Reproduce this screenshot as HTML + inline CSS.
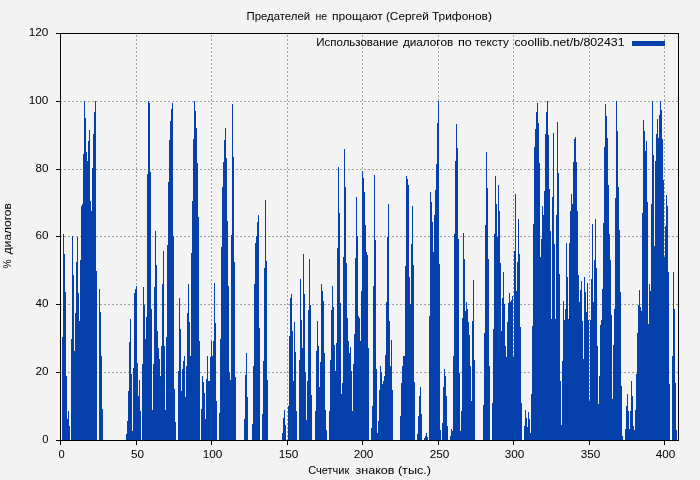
<!DOCTYPE html>
<html><head><meta charset="utf-8"><title>chart</title>
<style>
html,body{margin:0;padding:0;background:#f3f3f3;}
body{width:700px;height:480px;overflow:hidden;}
svg{display:block;will-change:transform;}
text{font-family:"Liberation Sans",sans-serif;font-size:10.6px;fill:#000;stroke:none;}
</style></head><body>
<svg width="700" height="480" viewBox="0 0 700 480">
<rect x="0" y="0" width="700" height="480" fill="#f3f3f3"/>
<g stroke="#a0a0a0" stroke-width="1" stroke-dasharray="2,2" shape-rendering="crispEdges" fill="none">
<line x1="136.5" y1="441" x2="136.5" y2="34"/><line x1="211.5" y1="441" x2="211.5" y2="34"/><line x1="287.5" y1="441" x2="287.5" y2="34"/><line x1="362.5" y1="441" x2="362.5" y2="34"/><line x1="438.5" y1="441" x2="438.5" y2="34"/><line x1="513.5" y1="441" x2="513.5" y2="34"/><line x1="589.5" y1="441" x2="589.5" y2="34"/><line x1="664.5" y1="441" x2="664.5" y2="34"/><line x1="60" y1="372.5" x2="678" y2="372.5"/><line x1="60" y1="304.5" x2="678" y2="304.5"/><line x1="60" y1="236.5" x2="678" y2="236.5"/><line x1="60" y1="169.5" x2="678" y2="169.5"/><line x1="60" y1="101.5" x2="678" y2="101.5"/>
</g>
<path d="M62 440V337h1V440zM63 440V234h1V440zM64 440V254h1V440zM65 440V292h1V440zM66 440V376h1V440zM67 440V419h1V440zM68 440V411h1V440zM69 440V426h1V440zM71 440V339h1V440zM72 440V236h1V440zM73 440V275h1V440zM74 440V351h1V440zM75 440V313h1V440zM76 440V262h1V440zM77 440V237h1V440zM78 440V293h1V440zM79 440V321h1V440zM80 440V260h1V440zM81 440V206h1V440zM82 440V204h1V440zM83 440V154h1V440zM84 440V101h1V440zM85 440V118h1V440zM86 440V152h1V440zM87 440V161h1V440zM88 440V141h1V440zM89 440V130h1V440zM90 440V201h1V440zM91 440V211h1V440zM92 440V168h1V440zM93 440V134h1V440zM94 440V112h1V440zM95 440V101h1V440zM96 440V271h1V440zM99 440V289h1V440zM100 440V312h1V440zM101 440V356h1V440zM102 440V409h1V440zM126 440V434h1V440zM127 440V421h1V440zM128 440V391h1V440zM129 440V342h1V440zM130 440V319h1V440zM131 440V374h1V440zM132 440V431h1V440zM133 440V368h1V440zM134 440V293h1V440zM135 440V289h1V440zM136 440V286h1V440zM137 440V363h1V440zM138 440V396h1V440zM139 440V380h1V440zM140 440V411h1V440zM142 440V364h1V440zM143 440V287h1V440zM144 440V305h1V440zM145 440V339h1V440zM146 440V317h1V440zM147 440V174h1V440zM148 440V101h1V440zM149 440V103h1V440zM150 440V172h1V440zM151 440V309h1V440zM152 440V410h1V440zM153 440V364h1V440zM154 440V287h1V440zM155 440V231h1V440zM156 440V265h1V440zM157 440V331h1V440zM158 440V348h1V440zM159 440V359h1V440zM160 440V376h1V440zM161 440V346h1V440zM162 440V284h1V440zM163 440V251h1V440zM164 440V346h1V440zM165 440V410h1V440zM166 440V337h1V440zM167 440V245h1V440zM168 440V182h1V440zM169 440V140h1V440zM170 440V121h1V440zM171 440V109h1V440zM172 440V103h1V440zM173 440V236h1V440zM174 440V389h1V440zM175 440V422h1V440zM178 440V371h1V440zM179 440V298h1V440zM180 440V329h1V440zM181 440V391h1V440zM182 440V369h1V440zM183 440V361h1V440zM184 440V356h1V440zM185 440V397h1V440zM186 440V366h1V440zM187 440V313h1V440zM188 440V284h1V440zM189 440V322h1V440zM190 440V356h1V440zM191 440V253h1V440zM192 440V201h1V440zM193 440V139h1V440zM194 440V101h1V440zM195 440V111h1V440zM196 440V128h1V440zM197 440V163h1V440zM198 440V217h1V440zM199 440V341h1V440zM201 440V409h1V440zM202 440V376h1V440zM203 440V382h1V440zM204 440V393h1V440zM205 440V419h1V440zM206 440V379h1V440zM207 440V356h1V440zM208 440V381h1V440zM209 440V381h1V440zM210 440V357h1V440zM211 440V341h1V440zM212 440V356h1V440zM213 440V341h1V440zM214 440V283h1V440zM215 440V323h1V440zM216 440V401h1V440zM219 440V413h1V440zM220 440V339h1V440zM221 440V247h1V440zM222 440V187h1V440zM223 440V162h1V440zM224 440V140h1V440zM225 440V128h1V440zM226 440V158h1V440zM227 440V221h1V440zM228 440V286h1V440zM229 440V372h1V440zM230 440V380h1V440zM231 440V235h1V440zM232 440V104h1V440zM233 440V157h1V440zM234 440V262h1V440zM235 440V377h1V440zM244 440V419h1V440zM245 440V375h1V440zM246 440V353h1V440zM247 440V397h1V440zM252 440V424h1V440zM253 440V366h1V440zM254 440V284h1V440zM255 440V243h1V440zM256 440V236h1V440zM257 440V222h1V440zM258 440V215h1V440zM259 440V328h1V440zM262 440V414h1V440zM263 440V361h1V440zM264 440V268h1V440zM265 440V200h1V440zM266 440V261h1V440zM267 440V380h1V440zM282 440V433h1V440zM283 440V418h1V440zM284 440V410h1V440zM285 440V425h1V440zM288 440V406h1V440zM289 440V336h1V440zM290 440V298h1V440zM291 440V294h1V440zM292 440V331h1V440zM293 440V381h1V440zM294 440V322h1V440zM295 440V352h1V440zM296 440V411h1V440zM299 440V360h1V440zM300 440V279h1V440zM301 440V320h1V440zM302 440V348h1V440zM303 440V254h1V440zM304 440V294h1V440zM305 440V372h1V440zM306 440V420h1V440zM307 440V381h1V440zM308 440V310h1V440zM309 440V259h1V440zM310 440V305h1V440zM311 440V395h1V440zM315 440V411h1V440zM316 440V351h1V440zM317 440V321h1V440zM318 440V346h1V440zM319 440V387h1V440zM320 440V362h1V440zM321 440V284h1V440zM322 440V291h1V440zM323 440V301h1V440zM324 440V353h1V440zM325 440V410h1V440zM326 440V430h1V440zM329 440V411h1V440zM330 440V360h1V440zM331 440V310h1V440zM332 440V286h1V440zM333 440V307h1V440zM334 440V345h1V440zM335 440V371h1V440zM336 440V343h1V440zM337 440V248h1V440zM338 440V167h1V440zM339 440V213h1V440zM340 440V303h1V440zM341 440V394h1V440zM342 440V383h1V440zM343 440V257h1V440zM344 440V149h1V440zM345 440V187h1V440zM346 440V263h1V440zM347 440V318h1V440zM348 440V341h1V440zM349 440V353h1V440zM350 440V347h1V440zM351 440V371h1V440zM352 440V411h1V440zM353 440V364h1V440zM354 440V334h1V440zM355 440V258h1V440zM356 440V197h1V440zM357 440V236h1V440zM358 440V316h1V440zM359 440V318h1V440zM360 440V341h1V440zM361 440V291h1V440zM362 440V171h1V440zM363 440V178h1V440zM364 440V192h1V440zM365 440V225h1V440zM366 440V252h1V440zM367 440V255h1V440zM368 440V348h1V440zM371 440V428h1V440zM372 440V406h1V440zM373 440V286h1V440zM374 440V175h1V440zM375 440V240h1V440zM376 440V369h1V440zM377 440V433h1V440zM378 440V421h1V440zM379 440V390h1V440zM380 440V366h1V440zM381 440V372h1V440zM382 440V384h1V440zM383 440V381h1V440zM384 440V376h1V440zM385 440V355h1V440zM386 440V302h1V440zM387 440V237h1V440zM388 440V204h1V440zM389 440V321h1V440zM390 440V366h1V440zM391 440V340h1V440zM392 440V390h1V440zM400 440V416h1V440zM401 440V383h1V440zM402 440V366h1V440zM403 440V356h1V440zM404 440V356h1V440zM405 440V266h1V440zM406 440V176h1V440zM407 440V179h1V440zM408 440V185h1V440zM409 440V277h1V440zM410 440V304h1V440zM411 440V244h1V440zM412 440V206h1V440zM413 440V265h1V440zM414 440V382h1V440zM417 440V434h1V440zM418 440V416h1V440zM419 440V396h1V440zM420 440V387h1V440zM421 440V414h1V440zM424 440V438h1V440zM425 440V436h1V440zM426 440V433h1V440zM427 440V437h1V440zM429 440V316h1V440zM430 440V192h1V440zM431 440V202h1V440zM432 440V222h1V440zM433 440V252h1V440zM434 440V215h1V440zM435 440V190h1V440zM436 440V164h1V440zM437 440V123h1V440zM438 440V101h1V440zM439 440V264h1V440zM440 440V430h1V440zM442 440V423h1V440zM443 440V387h1V440zM444 440V369h1V440zM445 440V376h1V440zM446 440V396h1V440zM447 440V426h1V440zM450 440V436h1V440zM451 440V429h1V440zM452 440V431h1V440zM453 440V356h1V440zM454 440V234h1V440zM455 440V161h1V440zM456 440V124h1V440zM457 440V148h1V440zM458 440V239h1V440zM459 440V373h1V440zM460 440V431h1V440zM461 440V411h1V440zM462 440V318h1V440zM463 440V233h1V440zM464 440V259h1V440zM465 440V311h1V440zM466 440V302h1V440zM467 440V309h1V440zM468 440V322h1V440zM469 440V335h1V440zM470 440V366h1V440zM471 440V401h1V440zM472 440V321h1V440zM473 440V280h1V440zM474 440V360h1V440zM483 440V405h1V440zM484 440V333h1V440zM485 440V225h1V440zM486 440V152h1V440zM487 440V188h1V440zM488 440V259h1V440zM489 440V366h1V440zM492 440V403h1V440zM493 440V329h1V440zM494 440V234h1V440zM495 440V176h1V440zM496 440V204h1V440zM497 440V237h1V440zM498 440V185h1V440zM499 440V211h1V440zM500 440V263h1V440zM501 440V331h1V440zM502 440V298h1V440zM503 440V272h1V440zM504 440V304h1V440zM505 440V346h1V440zM506 440V357h1V440zM507 440V322h1V440zM508 440V303h1V440zM509 440V293h1V440zM510 440V302h1V440zM511 440V300h1V440zM512 440V296h1V440zM513 440V357h1V440zM514 440V251h1V440zM515 440V194h1V440zM516 440V291h1V440zM517 440V262h1V440zM518 440V219h1V440zM519 440V254h1V440zM520 440V327h1V440zM521 440V403h1V440zM524 440V426h1V440zM525 440V410h1V440zM526 440V418h1V440zM527 440V427h1V440zM528 440V412h1V440zM529 440V419h1V440zM530 440V433h1V440zM531 440V394h1V440zM532 440V326h1V440zM533 440V224h1V440zM534 440V147h1V440zM535 440V129h1V440zM536 440V112h1V440zM537 440V103h1V440zM538 440V123h1V440zM539 440V163h1V440zM540 440V257h1V440zM541 440V239h1V440zM542 440V206h1V440zM543 440V215h1V440zM544 440V191h1V440zM545 440V134h1V440zM546 440V112h1V440zM547 440V101h1V440zM548 440V135h1V440zM549 440V189h1V440zM550 440V231h1V440zM551 440V319h1V440zM552 440V197h1V440zM553 440V133h1V440zM554 440V244h1V440zM555 440V319h1V440zM556 440V215h1V440zM557 440V122h1V440zM558 440V173h1V440zM559 440V274h1V440zM560 440V381h1V440zM561 440V425h1V440zM562 440V361h1V440zM563 440V301h1V440zM564 440V320h1V440zM565 440V309h1V440zM566 440V243h1V440zM567 440V277h1V440zM568 440V319h1V440zM569 440V243h1V440zM570 440V211h1V440zM571 440V194h1V440zM572 440V204h1V440zM573 440V162h1V440zM574 440V139h1V440zM575 440V137h1V440zM576 440V162h1V440zM577 440V211h1V440zM578 440V275h1V440zM579 440V302h1V440zM580 440V290h1V440zM581 440V281h1V440zM582 440V321h1V440zM583 440V359h1V440zM584 440V277h1V440zM585 440V292h1V440zM586 440V312h1V440zM587 440V283h1V440zM588 440V320h1V440zM589 440V401h1V440zM590 440V320h1V440zM591 440V279h1V440zM592 440V224h1V440zM593 440V302h1V440zM594 440V260h1V440zM595 440V219h1V440zM596 440V268h1V440zM597 440V346h1V440zM598 440V404h1V440zM599 440V376h1V440zM600 440V325h1V440zM601 440V320h1V440zM602 440V289h1V440zM603 440V223h1V440zM604 440V147h1V440zM605 440V104h1V440zM606 440V116h1V440zM607 440V138h1V440zM608 440V185h1V440zM609 440V234h1V440zM610 440V260h1V440zM611 440V315h1V440zM612 440V399h1V440zM613 440V345h1V440zM614 440V309h1V440zM615 440V198h1V440zM616 440V101h1V440zM617 440V131h1V440zM618 440V187h1V440zM619 440V230h1V440zM620 440V292h1V440zM621 440V386h1V440zM622 440V436h1V440zM625 440V429h1V440zM626 440V406h1V440zM627 440V394h1V440zM628 440V411h1V440zM629 440V429h1V440zM630 440V411h1V440zM631 440V381h1V440zM632 440V396h1V440zM633 440V426h1V440zM634 440V430h1V440zM635 440V410h1V440zM636 440V374h1V440zM637 440V333h1V440zM638 440V305h1V440zM639 440V290h1V440zM640 440V307h1V440zM641 440V311h1V440zM642 440V213h1V440zM643 440V120h1V440zM644 440V131h1V440zM645 440V151h1V440zM646 440V141h1V440zM647 440V202h1V440zM648 440V324h1V440zM649 440V284h1V440zM650 440V291h1V440zM651 440V204h1V440zM652 440V101h1V440zM653 440V155h1V440zM654 440V246h1V440zM655 440V161h1V440zM656 440V134h1V440zM657 440V119h1V440zM658 440V138h1V440zM659 440V115h1V440zM660 440V101h1V440zM661 440V110h1V440zM662 440V139h1V440zM663 440V180h1V440zM664 440V257h1V440zM665 440V226h1V440zM666 440V195h1V440zM667 440V206h1V440zM668 440V272h1V440zM669 440V384h1V440zM672 440V356h1V440zM673 440V272h1V440zM674 440V309h1V440zM675 440V383h1V440zM676 440V430h1V440z" fill="#0540ab" shape-rendering="crispEdges"/>
<rect x="632" y="41" width="33" height="5" fill="#0540ab" shape-rendering="crispEdges"/>
<g stroke="#000" stroke-width="1" shape-rendering="crispEdges" fill="none">
<rect x="60.5" y="33.5" width="618" height="407"/>
<line x1="60.5" y1="440" x2="60.5" y2="445"/><line x1="136.5" y1="440" x2="136.5" y2="445"/><line x1="211.5" y1="440" x2="211.5" y2="445"/><line x1="287.5" y1="440" x2="287.5" y2="445"/><line x1="362.5" y1="440" x2="362.5" y2="445"/><line x1="438.5" y1="440" x2="438.5" y2="445"/><line x1="513.5" y1="440" x2="513.5" y2="445"/><line x1="589.5" y1="440" x2="589.5" y2="445"/><line x1="664.5" y1="440" x2="664.5" y2="445"/><line x1="56" y1="440.5" x2="60" y2="440.5"/><line x1="56" y1="372.5" x2="60" y2="372.5"/><line x1="56" y1="304.5" x2="60" y2="304.5"/><line x1="56" y1="236.5" x2="60" y2="236.5"/><line x1="56" y1="169.5" x2="60" y2="169.5"/><line x1="56" y1="101.5" x2="60" y2="101.5"/><line x1="56" y1="33.5" x2="60" y2="33.5"/>
</g>
<text x="246.5" y="20" textLength="63.6" lengthAdjust="spacingAndGlyphs">Предателей</text>
<text x="315.5" y="20" textLength="11.6" lengthAdjust="spacingAndGlyphs">не</text>
<text x="332.1" y="20" textLength="50.8" lengthAdjust="spacingAndGlyphs">прощают</text>
<text x="385.9" y="20" textLength="43.0" lengthAdjust="spacingAndGlyphs">(Сергей</text>
<text x="431.9" y="20" textLength="60.0" lengthAdjust="spacingAndGlyphs">Трифонов)</text>
<text x="316.3" y="45.5" textLength="82.1" lengthAdjust="spacingAndGlyphs">Использование</text>
<text x="402.9" y="45.5" textLength="50.3" lengthAdjust="spacingAndGlyphs">диалогов</text>
<text x="458.0" y="45.5" textLength="13.9" lengthAdjust="spacingAndGlyphs">по</text>
<text x="474.8" y="45.5" textLength="34.0" lengthAdjust="spacingAndGlyphs">тексту</text>
<text x="514.4" y="45.5" textLength="110.1" lengthAdjust="spacingAndGlyphs">coollib.net/b/802431</text>
<text x="308.2" y="473.5" textLength="41.0" lengthAdjust="spacingAndGlyphs">Счетчик</text>
<text x="355.5" y="473.5" textLength="39.0" lengthAdjust="spacingAndGlyphs">знаков</text>
<text x="397.9" y="473.5" textLength="33.2" lengthAdjust="spacingAndGlyphs">(тыс.)</text>
<text transform="translate(11.3,268.6) rotate(-90)" textLength="9.0" lengthAdjust="spacingAndGlyphs">%</text>
<text transform="translate(11.3,254.2) rotate(-90)" textLength="51.0" lengthAdjust="spacingAndGlyphs">диалогов</text>
<text x="61.5" y="457.5" font-size="11.2" text-anchor="middle" textLength="6.2" lengthAdjust="spacingAndGlyphs">0</text>
<text x="137.5" y="457.5" font-size="11.2" text-anchor="middle" textLength="13" lengthAdjust="spacingAndGlyphs">50</text>
<text x="212.5" y="457.5" font-size="11.2" text-anchor="middle" textLength="19.6" lengthAdjust="spacingAndGlyphs">100</text>
<text x="288.5" y="457.5" font-size="11.2" text-anchor="middle" textLength="19.6" lengthAdjust="spacingAndGlyphs">150</text>
<text x="363.5" y="457.5" font-size="11.2" text-anchor="middle" textLength="19.6" lengthAdjust="spacingAndGlyphs">200</text>
<text x="439.5" y="457.5" font-size="11.2" text-anchor="middle" textLength="19.6" lengthAdjust="spacingAndGlyphs">250</text>
<text x="514.5" y="457.5" font-size="11.2" text-anchor="middle" textLength="19.6" lengthAdjust="spacingAndGlyphs">300</text>
<text x="590.5" y="457.5" font-size="11.2" text-anchor="middle" textLength="19.6" lengthAdjust="spacingAndGlyphs">350</text>
<text x="665.5" y="457.5" font-size="11.2" text-anchor="middle" textLength="19.6" lengthAdjust="spacingAndGlyphs">400</text>
<text x="48.4" y="442.9" font-size="11.2" text-anchor="end" textLength="6.2" lengthAdjust="spacingAndGlyphs">0</text>
<text x="48.4" y="374.9" font-size="11.2" text-anchor="end" textLength="13" lengthAdjust="spacingAndGlyphs">20</text>
<text x="48.4" y="306.9" font-size="11.2" text-anchor="end" textLength="13" lengthAdjust="spacingAndGlyphs">40</text>
<text x="48.4" y="238.9" font-size="11.2" text-anchor="end" textLength="13" lengthAdjust="spacingAndGlyphs">60</text>
<text x="48.4" y="171.9" font-size="11.2" text-anchor="end" textLength="13" lengthAdjust="spacingAndGlyphs">80</text>
<text x="48.4" y="103.9" font-size="11.2" text-anchor="end" textLength="19.6" lengthAdjust="spacingAndGlyphs">100</text>
<text x="48.4" y="35.9" font-size="11.2" text-anchor="end" textLength="19.6" lengthAdjust="spacingAndGlyphs">120</text>
</svg>
</body></html>
